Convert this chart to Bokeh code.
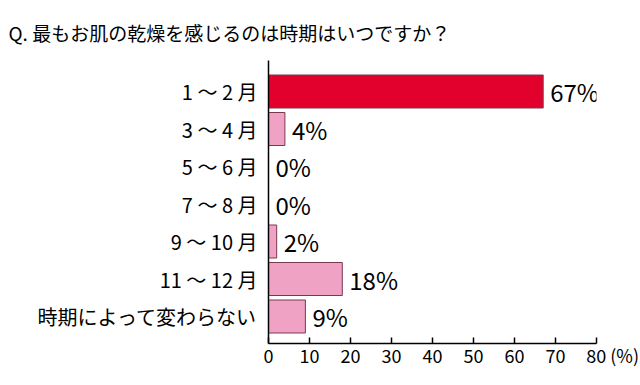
from bokeh.plotting import figure
from bokeh.models import Range1d, FixedTicker, ColumnDataSource
from bokeh.embed import file_html
from bokeh.resources import INLINE
from bokeh.core.properties import value

title_text = "Q. 最もお肌の乾燥を感じるのは時期はいつですか？"
categories = ["1 ～ 2 月", "3 ～ 4 月", "5 ～ 6 月", "7 ～ 8 月", "9 ～ 10 月", "11 ～ 12 月", "時期によって変わらない"]
values = [67, 4, 0, 0, 2, 18, 9]
colors = ["#E2002C", "#EFA2C4", "#EFA2C4", "#EFA2C4", "#EFA2C4", "#EFA2C4", "#EFA2C4"]
x_ticks = [0, 10, 20, 30, 40, 50, 60, 70, 80]
unit_label = "(%)"

FONT = "Noto Sans CJK JP"
idx = list(range(len(categories)))
y_bottom, y_top = 6.72, -0.827

src = ColumnDataSource(dict(
    y=idx, v=values, c=colors, lab=[f"{v}%" for v in values],
))

p = figure(width=640, height=385, output_backend="svg", toolbar_location=None,
           x_range=Range1d(0, 80), y_range=Range1d(y_bottom, y_top),
           min_border_left=268, min_border_right=44, min_border_top=60,
           min_border_bottom=42)
p.outline_line_color = None
p.grid.visible = False
p.background_fill_color = "white"
p.border_fill_color = "white"

p.title.text = title_text
p.title.align = "left"
p.title.offset = -260
p.title.text_font = FONT
p.title.text_font_size = "19px"
p.title.text_font_style = "normal"
p.title.text_color = "black"
p.title.standoff = 30

p.hbar(y="y", left=0, right="v", height=0.88, fill_color="c",
       line_color="#7A3A4E", line_width=1, source=src)
p.text(x="v", y="y", text="lab", x_offset=7, text_baseline="middle",
       text_align="left", text_font=value(FONT), text_font_size="24px",
       text_color="black", source=src)

# x axis
xa = p.xaxis[0]
xa.ticker = FixedTicker(ticks=x_ticks)
pad = "\u00a0" * 8
xa.major_label_overrides = {x_ticks[-1]: pad + f"{x_ticks[-1]}\u00a0{unit_label}"}
xa.major_tick_in = 6
xa.major_tick_out = 0
xa.minor_tick_line_color = None
xa.axis_line_width = 1.5
xa.major_tick_line_width = 1.5
xa.major_label_text_font = FONT
xa.major_label_text_font_size = "18px"
xa.major_label_standoff = -2
xa.major_label_text_color = "black"

# y axis
ya = p.yaxis[0]
ya.ticker = FixedTicker(ticks=idx)
ya.major_label_overrides = {i: c for i, c in zip(idx, categories)}
ya.major_tick_in = 0
ya.major_tick_out = 0
ya.minor_tick_line_color = None
ya.axis_line_width = 1.5
ya.major_label_text_font = FONT
ya.major_label_text_font_size = "20px"
ya.major_label_standoff = 11
ya.major_label_text_color = "black"

open("out.html", "w").write(file_html(p, INLINE))
